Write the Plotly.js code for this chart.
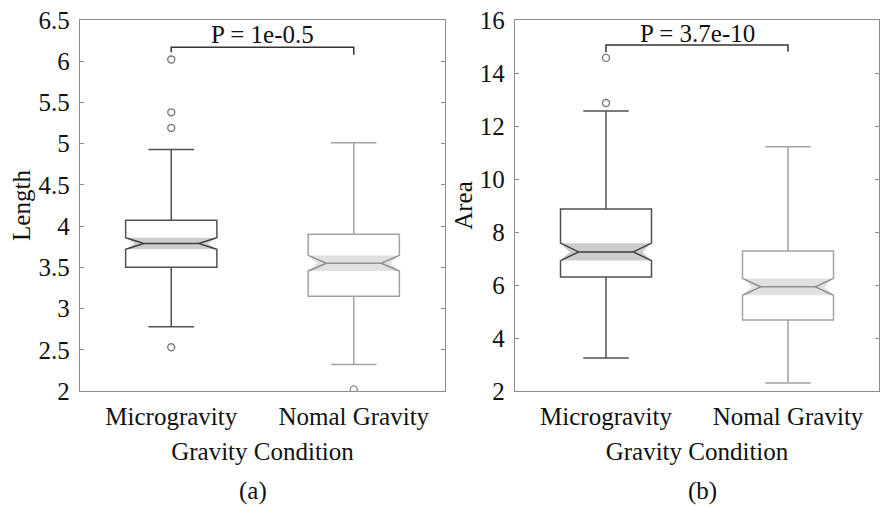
<!DOCTYPE html>
<html><head><meta charset="utf-8">
<script src="https://cdn.plot.ly/plotly-3.0.1.min.js"></script>
<style>html,body{margin:0;padding:0;background:#fff}#chart{width:880px;height:506px}</style>
</head><body><div id="chart"></div>
<script>
// ---- data ----
const categories = ['Microgravity', 'Nomal Gravity'];
const positions = [0, 1];

// (a) Length
const lenQ1 = [3.50, 3.15];
const lenMedian = [3.79, 3.55];
const lenQ3 = [4.07, 3.90];
const lenLowerFence = [2.78, 2.32];
const lenUpperFence = [4.93, 5.01];
const lenNotchSpan = [0.07, 0.095];
const lenOutliersMicro = [6.02, 5.38, 5.19, 2.53];
const lenOutliersNomal = [2.02];
const lenBracketY = [6.11, 6.17, 6.17, 6.08];
const lenPLabel = 'P = 1e-0.5';
const lenPLabelY = 6.33;

// (b) Area
const areaQ1 = [6.30, 4.68];
const areaMedian = [7.25, 5.93];
const areaQ3 = [8.87, 7.28];
const areaLowerFence = [3.25, 2.30];
const areaUpperFence = [12.57, 11.22];
const areaNotchSpan = [0.33, 0.32];
const areaOutliersMicro = [14.57, 12.87];
const areaOutliersNomal = [];
const areaBracketY = [14.78, 15.06, 15.06, 14.80];
const areaPLabel = 'P = 3.7e-10';
const areaPLabelY = 15.5;

// ---- styles ----
const FONT = 'Liberation Serif, Times New Roman, serif';
const FS = 25;
const lineColors = ['#505050', '#a3a3a3'];
const bandColors = ['rgba(0,0,0,0.2)', 'rgba(0,0,0,0.12)'];
const markerColors = ['#7a7a7a', '#8a8a8a'];
const BOXW = 0.5, NOTCHW = 0.2;

function panel(xa, ya, q1, med, q3, lf, uf, ns, outs, bracketY) {
  const tr = [];
  for (let i = 0; i < categories.length; i++) {
    tr.push({
      type: 'box', x: [positions[i]], q1: [q1[i]], median: [med[i]], q3: [q3[i]],
      lowerfence: [lf[i]], upperfence: [uf[i]], notchspan: [ns[i]],
      notched: true, notchwidth: NOTCHW, width: BOXW, whiskerwidth: 0.5,
      boxpoints: false, fillcolor: 'rgba(255,255,255,0)',
      line: {color: lineColors[i], width: 1.5},
      xaxis: xa, yaxis: ya, showlegend: false, hoverinfo: 'skip'
    });
  }
  for (let i = 0; i < categories.length; i++) {
    const p = positions[i], hw = BOXW / 2, ih = hw * (1 - NOTCHW), m = med[i], s = ns[i];
    tr.push({
      type: 'scatter', mode: 'lines', fill: 'toself', fillcolor: bandColors[i],
      x: [p - hw, p + hw, p + ih, p + hw, p - hw, p - ih, p - hw],
      y: [m + s, m + s, m, m - s, m - s, m, m + s],
      line: {width: 0}, xaxis: xa, yaxis: ya, showlegend: false, hoverinfo: 'skip'
    });
  }
  for (let i = 0; i < categories.length; i++) {
    tr.push({
      type: 'scatter', mode: 'markers', x: outs[i].map(() => positions[i]), y: outs[i],
      marker: {symbol: 'circle-open', size: 7, color: markerColors[i], line: {width: 1.4}},
      xaxis: xa, yaxis: ya, showlegend: false, hoverinfo: 'skip'
    });
  }
  tr.push({
    type: 'scatter', mode: 'lines',
    x: [positions[0], positions[0], positions[1], positions[1]], y: bracketY,
    line: {color: '#333333', width: 1.5}, xaxis: xa, yaxis: ya, showlegend: false, hoverinfo: 'skip'
  });
  return tr;
}

const data = [].concat(
  panel('x', 'y', lenQ1, lenMedian, lenQ3, lenLowerFence, lenUpperFence, lenNotchSpan,
        [lenOutliersMicro, lenOutliersNomal], lenBracketY),
  panel('x2', 'y2', areaQ1, areaMedian, areaQ3, areaLowerFence, areaUpperFence, areaNotchSpan,
        [areaOutliersMicro, areaOutliersNomal], areaBracketY)
);

const ydom = [1 - 391 / 506, 1 - 20 / 506];
function xaxis(dom, anchor) {
  return {
    domain: dom, anchor: anchor, range: [-0.5, 1.5], tickvals: positions, ticktext: categories,
    showgrid: false, zeroline: false, showline: true, linecolor: '#8c8c8c', linewidth: 1.2,
    mirror: true, ticks: '', ticklabelstandoff: 3, tickfont: {family: FONT, size: FS, color: '#111'},
    title: {text: 'Gravity Condition', font: {family: FONT, size: FS, color: '#111'}, standoff: 13}
  };
}
function yaxis(range, dtick, title, anchor) {
  return {
    domain: ydom, anchor: anchor, range: range, dtick: dtick, showgrid: false, zeroline: false,
    showline: true, linecolor: '#8c8c8c', linewidth: 1.2, mirror: 'ticks',
    ticks: 'inside', ticklen: 4, tickcolor: '#8c8c8c', ticklabelstandoff: 4,
    tickfont: {family: FONT, size: FS, color: '#111'},
    title: {text: title, font: {family: FONT, size: FS, color: '#111'}, standoff: 0}
  };
}

const layout = {
  width: 880, height: 506, margin: {l: 0, r: 0, t: 0, b: 0},
  paper_bgcolor: '#fff', plot_bgcolor: '#fff', showlegend: false,
  xaxis: xaxis([80 / 880, 445 / 880], 'y'),
  yaxis: yaxis([2, 6.5], 0.5, 'Length', 'x'),
  xaxis2: xaxis([515 / 880, 879 / 880], 'y2'),
  yaxis2: yaxis([2, 16], 2, 'Area', 'x2'),
  annotations: [
    {xref: 'x', yref: 'y', x: 0.5, y: lenPLabelY, text: lenPLabel, showarrow: false,
     font: {family: FONT, size: FS, color: '#111'}},
    {xref: 'x2', yref: 'y2', x: 0.5, y: areaPLabelY, text: areaPLabel, showarrow: false,
     font: {family: FONT, size: FS, color: '#111'}},
    {xref: 'paper', yref: 'paper', x: 253 / 880, y: 1 - 491 / 506, yanchor: 'middle', xanchor: 'center',
     text: '(a)', showarrow: false, font: {family: FONT, size: FS, color: '#111'}},
    {xref: 'paper', yref: 'paper', x: 702 / 880, y: 1 - 491 / 506, yanchor: 'middle', xanchor: 'center',
     text: '(b)', showarrow: false, font: {family: FONT, size: FS, color: '#111'}}
  ]
};

Plotly.newPlot('chart', data, layout, {staticPlot: true});
</script>
</body></html>
